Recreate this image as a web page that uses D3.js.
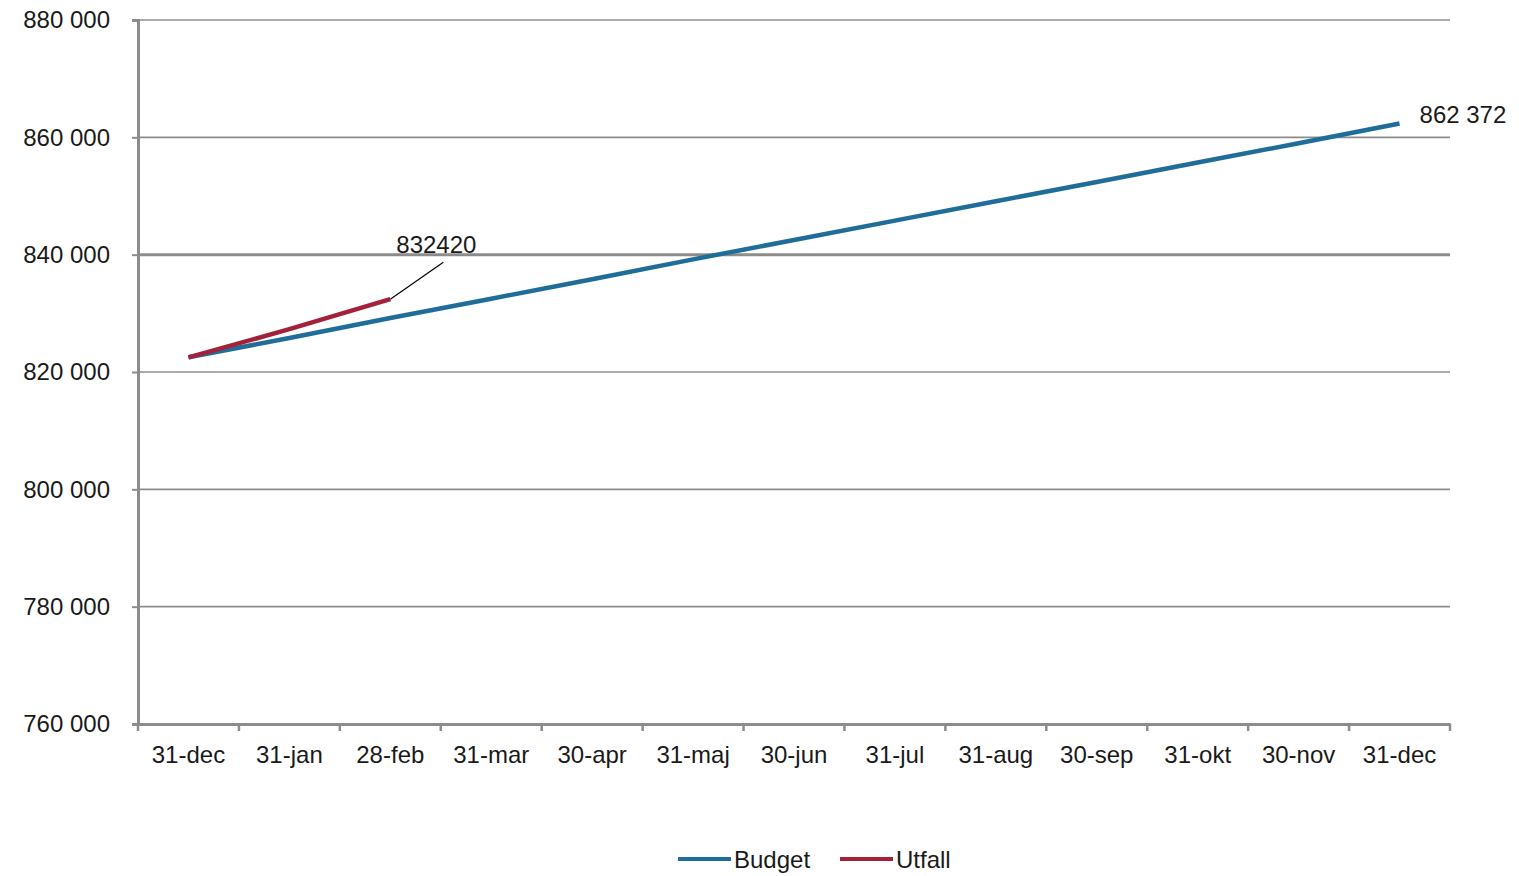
<!DOCTYPE html>
<html><head><meta charset="utf-8">
<script src="https://cdn.jsdelivr.net/npm/d3@7"></script>
<style>body{margin:0;background:#fff}text{font-family:"Liberation Sans",Arial,sans-serif;fill:#1a1a1a}</style>
</head><body><svg id="c" width="1519" height="876"></svg>
<script>
const categories = ["31-dec","31-jan","28-feb","31-mar","30-apr","31-maj","30-jun","31-jul","31-aug","30-sep","31-okt","30-nov","31-dec "];
const budget = [822500,825800,829200,832500,835800,839200,842500,845800,849100,852400,855700,859000,862372];
const utfall = [822500,827300,832420];
const yTicks = [760000,780000,800000,820000,840000,860000,880000];
const seriesNames = ["Budget","Utfall"];
const colors = {Budget:"#1f6d98", Utfall:"#a3213b"};

const svg = d3.select("#c");
const L=138, R=1450, T=20, B=724;
const x = d3.scaleBand().domain(categories).range([L,R]).paddingInner(0).paddingOuter(0);
const y = d3.scaleLinear().domain([760000,880000]).range([B,T]);
const fmt = v => d3.format(",")(v).replace(/,/g," ");
const cx = c => x(c)+x.bandwidth()/2;

// gridlines
svg.append("g").selectAll("line").data(yTicks.filter(v=>v>760000)).join("line")
  .attr("x1",L).attr("x2",R).attr("y1",d=>y(d)).attr("y2",d=>y(d))
  .attr("stroke","#8c8c8c").attr("stroke-width",d=>d===840000?3:1.6);

// y axis
const ya = svg.append("g").attr("transform",`translate(${L},0)`)
  .call(d3.axisLeft(y).tickValues(yTicks).tickFormat(fmt).tickSize(6).tickPadding(22));
ya.select(".domain").attr("stroke","#8c8c8c").attr("stroke-width",3);
ya.selectAll(".tick line").attr("stroke","#8c8c8c").attr("stroke-width",2);
ya.selectAll("text").attr("font-size",24).attr("fill","#1a1a1a").style("font-family","Liberation Sans, Arial");

// x axis
const xa = svg.append("g").attr("transform",`translate(0,${B})`)
  .call(d3.axisBottom(x).tickSize(0).tickPadding(22));
xa.select(".domain").attr("stroke","#8c8c8c").attr("stroke-width",3);
xa.selectAll("text").attr("font-size",24).attr("fill","#1a1a1a").style("font-family","Liberation Sans, Arial");
const bounds = categories.map(c=>x(c)).concat([R]);
svg.append("g").selectAll("line").data(bounds).join("line")
  .attr("x1",d=>d).attr("x2",d=>d).attr("y1",B).attr("y2",B+7)
  .attr("stroke","#8c8c8c").attr("stroke-width",2.5);

const line = d3.line().x((d,i)=>cx(categories[i])).y(d=>y(d));
svg.append("path").datum(budget).attr("d",line).attr("fill","none")
  .attr("stroke",colors.Budget).attr("stroke-width",4.5);
svg.append("path").datum(utfall).attr("d",line).attr("fill","none")
  .attr("stroke",colors.Utfall).attr("stroke-width",4.5);

// labels
const ex = cx(categories[2]), ey = y(utfall[2]);
svg.append("line").attr("x1",ex).attr("y1",ey).attr("x2",ex+53).attr("y2",ey-37)
  .attr("stroke","#000").attr("stroke-width",1.2);
svg.append("text").attr("x",ex+6).attr("y",ey-46).attr("font-size",24).text(String(utfall[2]));
const bx = cx(categories[12]), by = y(budget[12]);
svg.append("text").attr("x",bx+20).attr("y",by-0).attr("font-size",24).text(fmt(budget[12]));

// legend
const lg = svg.append("g");
const items = [{n:"Budget",x:678},{n:"Utfall",x:840}];
items.forEach(it=>{
  lg.append("line").attr("x1",it.x).attr("x2",it.x+53).attr("y1",859).attr("y2",859)
    .attr("stroke",colors[it.n]).attr("stroke-width",4);
  lg.append("text").attr("x",it.x+56).attr("y",868).attr("font-size",24).text(it.n);
});
</script></body></html>
